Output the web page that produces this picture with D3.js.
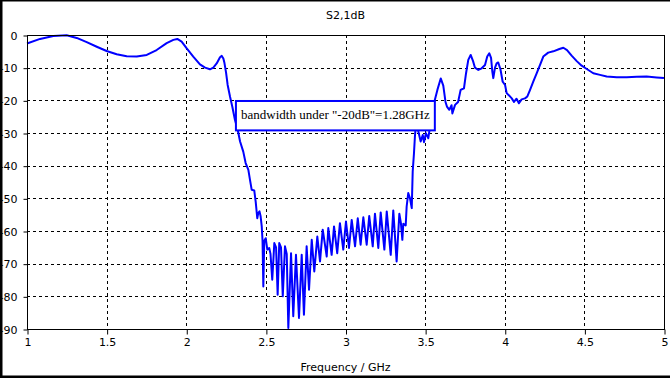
<!DOCTYPE html>
<html>
<head>
<meta charset="utf-8">
<script src="https://cdn.jsdelivr.net/npm/d3@7"></script>
<style>
  html, body { margin: 0; padding: 0; background: #fff; }
  svg { display: block; }
  .tick text { font-family: "DejaVu Sans", sans-serif; font-size: 11px; fill: #000; }
</style>
</head>
<body>
<svg id="chart" width="670" height="378"></svg>
<script>
// ---- data ----
const chartTitle = "S2,1dB";
const xAxisTitle = "Frequency / GHz";
const annotationText = "bandwidth under \"-20dB\"=1.28GHz";
const xTicks = [1, 1.5, 2, 2.5, 3, 3.5, 4, 4.5, 5];
const yTicks = [0, -10, -20, -30, -40, -50, -60, -70, -80, -90];
// [frequency GHz, S21 dB]
const s21Trace = [
  [1.000,-2.6],[1.082,-1.2],[1.165,-0.3],[1.249,-0.1],[1.312,-0.9],[1.375,-2.2],[1.438,-3.6],
  [1.500,-4.9],[1.563,-5.9],[1.626,-6.5],[1.689,-6.6],[1.752,-6.1],[1.814,-4.6],[1.877,-2.5],
  [1.919,-1.5],[1.944,-1.2],[1.971,-2.0],[2.003,-4.1],[2.044,-6.6],[2.086,-9.0],[2.118,-10.0],
  [2.149,-10.5],[2.170,-10.0],[2.191,-8.7],[2.212,-6.8],[2.223,-6.4],[2.233,-7.2],[2.240,-8.6],
  [2.250,-11.5],[2.260,-15.3],[2.275,-18.9],[2.289,-21.9],[2.306,-26.0],[2.323,-29.0],[2.338,-32.6],
  [2.358,-35.7],[2.373,-39.2],[2.390,-41.3],[2.400,-44.3],[2.411,-47.4],[2.427,-47.6],[2.436,-51.0],
  [2.446,-56.1],[2.452,-54.5],[2.460,-54.0],[2.467,-55.5],[2.474,-58.6],[2.479,-63.0],[2.484,-77.0],
  [2.490,-63.0],[2.499,-62.2],[2.509,-65.7],[2.521,-65.2],[2.529,-67.0],[2.540,-74.9],[2.553,-63.7],
  [2.564,-65.0],[2.574,-79.5],[2.584,-63.7],[2.595,-65.0],[2.606,-80.0],[2.620,-64.7],[2.631,-67.0],
  [2.641,-89.7],[2.658,-66.8],[2.672,-86.1],[2.689,-67.3],[2.708,-86.6],[2.725,-67.3],[2.739,-85.6],
  [2.756,-64.7],[2.771,-78.0],[2.788,-62.7],[2.804,-72.4],[2.823,-61.7],[2.840,-69.3],[2.857,-59.6],
  [2.882,-67.8],[2.892,-59.1],[2.913,-67.3],[2.928,-58.6],[2.948,-66.8],[2.965,-57.6],[2.986,-65.7],
  [3.003,-57.1],[3.022,-65.2],[3.039,-56.6],[3.060,-64.7],[3.077,-56.1],[3.095,-64.2],[3.112,-55.8],
  [3.133,-64.2],[3.149,-55.4],[3.171,-64.7],[3.185,-54.7],[3.206,-65.2],[3.221,-54.3],[3.244,-65.7],
  [3.259,-54.0],[3.284,-67.3],[3.300,-53.7],[3.321,-69.3],[3.338,-54.7],[3.348,-57.6],[3.357,-62.7],
  [3.363,-57.8],[3.378,-58.3],[3.384,-52.5],[3.394,-48.4],[3.405,-50.0],[3.416,-53.0],[3.422,-41.8],
  [3.430,-36.2],[3.436,-31.0],[3.443,-27.0],[3.455,-29.0],[3.472,-32.6],[3.485,-30.6],[3.493,-32.8],
  [3.505,-30.1],[3.520,-31.6],[3.531,-28.0],[3.543,-24.0],[3.558,-20.4],[3.577,-16.8],[3.598,-13.3],
  [3.614,-15.5],[3.628,-20.5],[3.637,-21.9],[3.652,-22.9],[3.666,-21.5],[3.671,-24.0],[3.688,-21.4],
  [3.707,-20.5],[3.723,-16.8],[3.744,-16.3],[3.757,-11.7],[3.771,-7.6],[3.786,-6.1],[3.801,-8.0],
  [3.813,-10.0],[3.834,-10.7],[3.855,-10.2],[3.876,-9.2],[3.890,-6.6],[3.903,-5.6],[3.914,-7.0],
  [3.922,-11.2],[3.928,-13.2],[3.939,-10.0],[3.949,-8.7],[3.959,-8.4],[3.973,-10.5],[3.987,-14.3],
  [4.002,-15.3],[4.012,-17.8],[4.027,-18.5],[4.044,-19.4],[4.058,-20.5],[4.074,-19.5],[4.089,-20.9],
  [4.106,-19.7],[4.127,-19.4],[4.142,-18.8],[4.159,-16.8],[4.179,-14.3],[4.201,-11.7],[4.221,-9.2],
  [4.242,-6.6],[4.273,-5.4],[4.305,-5.0],[4.343,-4.3],[4.368,-3.9],[4.391,-4.6],[4.420,-6.3],
  [4.452,-8.0],[4.483,-9.4],[4.515,-10.4],[4.556,-11.7],[4.598,-12.2],[4.640,-12.7],[4.703,-12.9],
  [4.766,-12.9],[4.829,-12.8],[4.891,-12.7],[4.954,-13.0],[5.000,-13.2]
];
const annotationBox = { x0: 2.312, x1: 3.561, y0: -20.2, y1: -29.2 };

// ---- drawing ----
const W = 670, H = 378;
const plot = { left: 27, right: 664, top: 35, bottom: 329 };
const svg = d3.select("#chart");

const x = d3.scaleLinear().domain([1, 5]).range([plot.left, plot.right]);
const y = d3.scaleLinear().domain([-90, 0]).range([plot.bottom, plot.top]);

// grid
const grid = svg.append("g");
grid.selectAll("line.vg").data(xTicks.slice(1, -1)).enter().append("line")
  .attr("x1", d => Math.round(x(d)) + 0.5).attr("x2", d => Math.round(x(d)) + 0.5)
  .attr("y1", plot.top).attr("y2", plot.bottom)
  .attr("stroke", "#000").attr("stroke-width", 1).attr("stroke-dasharray", "3,3");
grid.selectAll("line.hg").data(yTicks.slice(1, -1)).enter().append("line")
  .attr("y1", d => Math.round(y(d)) + 0.5).attr("y2", d => Math.round(y(d)) + 0.5)
  .attr("x1", plot.left).attr("x2", plot.right)
  .attr("stroke", "#000").attr("stroke-width", 1).attr("stroke-dasharray", "3,3");

// curve
const line = d3.line().x(d => x(d[0])).y(d => y(d[1]));
svg.append("path").datum(s21Trace)
  .attr("d", line)
  .attr("fill", "none").attr("stroke", "#0000ff").attr("stroke-width", 2)
  .attr("stroke-linejoin", "round");

// frame
svg.append("rect")
  .attr("x", plot.left + 0.5).attr("y", plot.top + 0.5)
  .attr("width", plot.right - plot.left).attr("height", plot.bottom - plot.top)
  .attr("fill", "none").attr("stroke", "#000").attr("stroke-width", 1);

// axes
const xAxis = d3.axisBottom(x).tickValues(xTicks).tickSize(5).tickSizeOuter(0)
  .tickFormat(d => String(d));
const gx = svg.append("g").attr("transform", `translate(0.5,${plot.bottom + 0.5})`).call(xAxis);
gx.select(".domain").remove();
gx.selectAll(".tick text").attr("dy", "0.71em").attr("y", 9);

const yAxis = d3.axisLeft(y).tickValues(yTicks).tickSize(4).tickSizeOuter(0)
  .tickFormat(d => d === 0 ? "0" : "-" + Math.abs(d));
const gy = svg.append("g").attr("transform", `translate(${plot.left + 0.5},0.5)`).call(yAxis);
gy.select(".domain").remove();
gy.selectAll(".tick text").attr("x", -10);

// title
svg.append("text").attr("x", (plot.left + plot.right) / 2).attr("y", 19)
  .attr("text-anchor", "middle").attr("font-family", "DejaVu Sans, sans-serif")
  .attr("font-size", 11).text(chartTitle);
svg.append("text").attr("x", (plot.left + plot.right) / 2).attr("y", 371)
  .attr("text-anchor", "middle").attr("font-family", "DejaVu Sans, sans-serif")
  .attr("font-size", 11).text(xAxisTitle);

// annotation
const ax0 = x(annotationBox.x0), ax1 = x(annotationBox.x1);
const ay0 = y(annotationBox.y0), ay1 = y(annotationBox.y1);
svg.append("rect").attr("x", ax0).attr("y", ay0)
  .attr("width", ax1 - ax0).attr("height", ay1 - ay0)
  .attr("fill", "#fff").attr("stroke", "#0000ff").attr("stroke-width", 2);
svg.append("text").attr("x", (ax0 + ax1) / 2).attr("y", ay0 + 18)
  .attr("text-anchor", "middle").attr("font-family", "Liberation Serif, serif")
  .attr("font-size", 13).attr("fill", "#000").text(annotationText);

// outer border
svg.append("path").attr("d", `M1,0 V${H - 1} H${W}`)
  .attr("fill", "none").attr("stroke", "#000").attr("stroke-width", 3);
svg.append("line").attr("x1", 0).attr("x2", W).attr("y1", 0.5).attr("y2", 0.5)
  .attr("stroke", "#000").attr("stroke-width", 2);
</script>
</body>
</html>
